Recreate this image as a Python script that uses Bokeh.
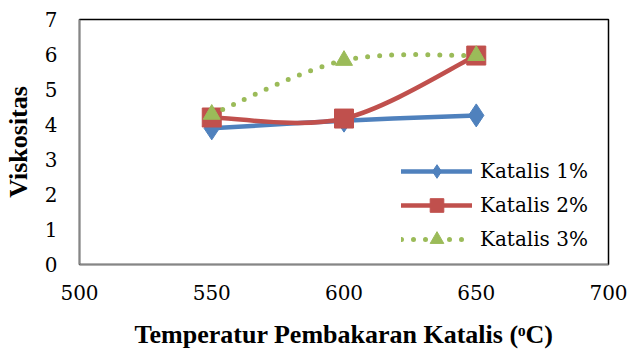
import numpy as np
from bokeh.plotting import figure
from bokeh.models import Range1d, FixedTicker, Legend, LegendItem, ColumnDataSource
from bokeh.embed import file_html
from bokeh.resources import INLINE

temperature = [550, 600, 650]
katalis_1 = [3.89, 4.11, 4.26]
katalis_2 = [4.20, 4.17, 5.97]
katalis_3 = [4.29, 5.83, 5.97]
series_names = ["Katalis 1%", "Katalis 2%", "Katalis 3%"]
x_ticks = [500, 550, 600, 650, 700]
y_ticks = [0, 1, 2, 3, 4, 5, 6, 7]

TITLE_FONT = "Liberation Serif"
TEXT_FONT = "DejaVu Serif"
BLUE, RED, GREEN = "#4F81BD", "#C0504D", "#9BBB59"


def smooth_source(xs, ys):
    """Bezier segments (Catmull-Rom style, like Excel's smoothed line)."""
    xs = np.asarray(xs, float)
    ys = np.asarray(ys, float)
    n = len(xs)
    d = dict(x0=[], y0=[], x1=[], y1=[], cx0=[], cy0=[], cx1=[], cy1=[])
    for i in range(n - 1):
        im1 = max(i - 1, 0)
        ip2 = min(i + 2, n - 1)
        d["x0"].append(xs[i]); d["y0"].append(ys[i])
        d["x1"].append(xs[i + 1]); d["y1"].append(ys[i + 1])
        d["cx0"].append(xs[i] + (xs[i + 1] - xs[im1]) / 6)
        d["cy0"].append(ys[i] + (ys[i + 1] - ys[im1]) / 6)
        d["cx1"].append(xs[i + 1] - (xs[ip2] - xs[i]) / 6)
        d["cy1"].append(ys[i + 1] - (ys[ip2] - ys[i]) / 6)
    return ColumnDataSource(d)


p = figure(width=630, height=354, output_backend="svg", toolbar_location=None,
           x_range=Range1d(500, 700), y_range=Range1d(0, 7),
           min_border_left=77, min_border_right=22, min_border_top=19,
           min_border_bottom=90)

p.xgrid.visible = False
p.ygrid.visible = False
p.outline_line_color = "black"
p.outline_line_width = 1.5
p.background_fill_color = "white"
p.border_fill_color = "white"

for ax in (p.xaxis[0], p.yaxis[0]):
    ax.major_tick_out = 0
    ax.major_tick_in = 0
    ax.minor_tick_out = 0
    ax.minor_tick_in = 0
    ax.axis_line_color = "#868686"
    ax.axis_line_width = 1.5
    ax.major_label_text_font = TEXT_FONT
    ax.major_label_text_font_size = "20px"
    ax.major_label_text_color = "black"
    ax.axis_label_text_font = TITLE_FONT
    ax.axis_label_text_font_size = "26px"
    ax.axis_label_text_font_style = "bold"
    ax.axis_label_text_color = "black"

p.xaxis.ticker = FixedTicker(ticks=x_ticks)
p.yaxis.ticker = FixedTicker(ticks=y_ticks)
p.xaxis.major_label_standoff = 20
p.yaxis.major_label_standoff = 22
p.xaxis.axis_label = "Temperatur Pembakaran Katalis (ᵒC)"
p.yaxis.axis_label = "Viskositas"
p.xaxis.axis_label_standoff = 17
p.yaxis.axis_label_standoff = 9

# Katalis 1%
b1 = p.bezier(x0="x0", y0="y0", x1="x1", y1="y1", cx0="cx0", cy0="cy0",
              cx1="cx1", cy1="cy1", source=smooth_source(temperature, katalis_1),
              line_color=BLUE, line_width=4.5, line_cap="round")
s1 = p.scatter(temperature, katalis_1, marker="diamond", size=23,
               fill_color=BLUE, line_color=BLUE)
# Katalis 2%
b2 = p.bezier(x0="x0", y0="y0", x1="x1", y1="y1", cx0="cx0", cy0="cy0",
              cx1="cx1", cy1="cy1", source=smooth_source(temperature, katalis_2),
              line_color=RED, line_width=4.5, line_cap="round")
s2 = p.scatter(temperature, katalis_2, marker="square", size=19,
               fill_color=RED, line_color=RED)
# Katalis 3%
b3 = p.bezier(x0="x0", y0="y0", x1="x1", y1="y1", cx0="cx0", cy0="cy0",
              cx1="cx1", cy1="cy1", source=smooth_source(temperature, katalis_3),
              line_color=GREEN, line_width=5, line_cap="round", line_dash="0 12")
s3 = p.scatter(temperature, katalis_3, marker="triangle", size=17,
               fill_color=GREEN, line_color=GREEN)

legend = Legend(items=[
    LegendItem(label=series_names[0], renderers=[b1, s1]),
    LegendItem(label=series_names[1], renderers=[b2, s2]),
    LegendItem(label=series_names[2], renderers=[b3, s3]),
], location=(322, 8))
legend.glyph_width = 71
legend.glyph_height = 34
legend.label_height = 34
legend.spacing = 0
legend.padding = 0
legend.margin = 0
legend.label_standoff = 8
legend.label_text_font = TEXT_FONT
legend.label_text_font_size = "20px"
legend.label_text_color = "black"
legend.border_line_alpha = 0
legend.background_fill_alpha = 0
p.add_layout(legend, "center")

open("out.html", "w").write(file_html(p, INLINE))
